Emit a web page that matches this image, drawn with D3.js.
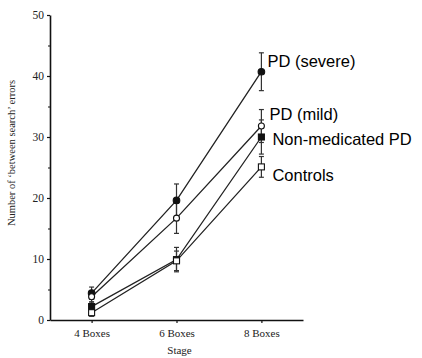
<!DOCTYPE html>
<html>
<head>
<meta charset="utf-8">
<script src="https://cdn.jsdelivr.net/npm/d3@7/dist/d3.min.js"></script>
<style>
  html, body { margin: 0; padding: 0; background: #fff; }
  svg { display: block; }
</style>
</head>
<body>
<svg id="chart" width="422" height="358"></svg>
<script>
// Search errors per stage for each group
const stages = ["4 Boxes", "6 Boxes", "8 Boxes"];
const seriesNames = ["PD (severe)", "PD (mild)", "Non-medicated PD", "Controls"];
const severeMean = [4.4, 19.6, 40.7];
const severeErr = [1.0, 2.7, 3.1];
const mildMean = [3.8, 16.7, 31.8];
const mildErr = [1.0, 2.5, 2.7];
const nonMedMean = [2.2, 9.9, 30.0];
const nonMedErr = [0.8, 2.0, 2.8];
const controlsMean = [1.2, 9.7, 25.1];
const controlsErr = [0.6, 1.6, 1.7];
const markerKinds = ["circle-filled", "circle-open", "square-filled", "square-open"];
const yMajorTicks = [0, 10, 20, 30, 40, 50];
const yMinorTicks = [5, 15, 25, 35, 45];

const series = seriesNames.map((name, i) => ({
  name,
  marker: markerKinds[i],
  mean: [severeMean, mildMean, nonMedMean, controlsMean][i],
  err: [severeErr, mildErr, nonMedErr, controlsErr][i]
}));

const svg = d3.select("#chart");
const serif = "'Liberation Serif', 'DejaVu Serif', serif";
const sans = "'Liberation Sans', Arial, sans-serif";

const x = d3.scalePoint().domain(stages).range([50, 303]).padding(0.49);
const y = d3.scaleLinear().domain([0, 50]).range([320, 15]);

// y axis: major and minor ticks
const yAxis = svg.append("g").attr("transform", "translate(50,0)")
  .call(d3.axisLeft(y).tickValues(yMajorTicks).tickSize(3).tickSizeOuter(0).tickPadding(3));
svg.append("g").attr("transform", "translate(50,0)")
  .call(d3.axisLeft(y).tickValues(yMinorTicks).tickSize(2).tickSizeOuter(0).tickFormat(""))
  .select(".domain").remove();

// x axis
const xAxis = svg.append("g").attr("transform", "translate(0,320)")
  .call(d3.axisBottom(x).tickSize(3).tickSizeOuter(0).tickPadding(6));

svg.selectAll(".domain").attr("stroke", "#111").attr("stroke-width", 1.6);
svg.selectAll(".tick line").attr("stroke", "#111").attr("stroke-width", 1.2);
yAxis.selectAll("text").attr("font-family", serif).attr("font-size", 11.5).attr("fill", "#222");
xAxis.selectAll("text").attr("font-family", serif).attr("font-size", 11).attr("fill", "#222");

// axis titles
svg.append("text")
  .attr("transform", `translate(15,153) rotate(-90)`)
  .attr("text-anchor", "middle")
  .attr("font-family", serif).attr("font-size", 10.5).attr("fill", "#222")
  .text("Number of \u2018between search\u2019 errors");
svg.append("text")
  .attr("x", x("6 Boxes") + 3).attr("y", 354)
  .attr("text-anchor", "middle")
  .attr("font-family", serif).attr("font-size", 11).attr("fill", "#222")
  .text("Stage");

const line = d3.line().x((d, i) => x(stages[i])).y(d => y(d));

// connecting lines
svg.append("g").selectAll("path").data(series).join("path")
  .attr("d", s => line(s.mean))
  .attr("fill", "none").attr("stroke", "#222").attr("stroke-width", 1.3);

// error bars
const eb = svg.append("g").attr("stroke", "#333").attr("stroke-width", 1.2);
series.forEach(s => {
  s.mean.forEach((m, i) => {
    const cx = x(stages[i]);
    const lo = y(m - s.err[i]), hi = y(m + s.err[i]);
    eb.append("line").attr("x1", cx).attr("x2", cx).attr("y1", lo).attr("y2", hi);
    eb.append("line").attr("x1", cx - 2.5).attr("x2", cx + 2.5).attr("y1", lo).attr("y2", lo);
    eb.append("line").attr("x1", cx - 2.5).attr("x2", cx + 2.5).attr("y1", hi).attr("y2", hi);
  });
});

// markers
const mk = svg.append("g");
series.forEach(s => {
  s.mean.forEach((m, i) => {
    const cx = x(stages[i]), cy = y(m);
    const filled = s.marker.endsWith("filled");
    if (s.marker.startsWith("circle")) {
      mk.append("circle").attr("cx", cx).attr("cy", cy).attr("r", filled ? 3.3 : 3)
        .attr("fill", filled ? "#111" : "#fff").attr("stroke", "#111").attr("stroke-width", 1.1);
    } else {
      mk.append("rect").attr("x", cx - 3).attr("y", cy - 3).attr("width", 6).attr("height", 6)
        .attr("fill", filled ? "#111" : "#fff").attr("stroke", "#111").attr("stroke-width", 1.1);
    }
  });
});

// series labels beside the last stage, offset in pixels from each end point
const labelOffsets = [{ dx: 6, dy: -5 }, { dx: 8, dy: -6.5 }, { dx: 11, dy: 8 }, { dx: 11, dy: 14.5 }];
svg.append("g").selectAll("text").data(series).join("text")
  .attr("x", (s, i) => x(stages[2]) + labelOffsets[i].dx)
  .attr("y", (s, i) => y(s.mean[2]) + labelOffsets[i].dy)
  .attr("font-family", sans).attr("font-size", 16.5).attr("fill", "#000")
  .text(s => s.name);
</script>
</body>
</html>
